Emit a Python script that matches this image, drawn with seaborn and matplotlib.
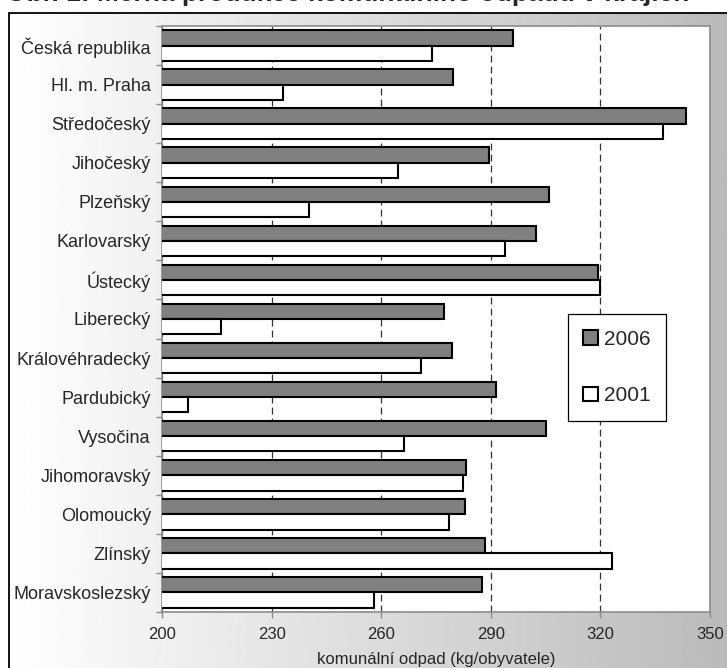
import numpy as np
import pandas as pd
import matplotlib
matplotlib.use("Agg")
import matplotlib.pyplot as plt
from matplotlib.patches import Patch, Rectangle
import seaborn as sns

# Municipal waste per inhabitant by region (kg/obyvatele)
kraje = ["Česká republika", "Hl. m. Praha", "Středočeský", "Jihočeský", "Plzeňský",
         "Karlovarský", "Ústecký", "Liberecký", "Královéhradecký", "Pardubický",
         "Vysočina", "Jihomoravský", "Olomoucký", "Zlínský", "Moravskoslezský"]
odpad_2006 = [296.1, 279.7, 343.4, 289.6, 305.9, 302.5, 319.3, 277.2, 279.4, 291.4,
              305.1, 283.3, 283.0, 288.3, 287.6]
odpad_2001 = [274.0, 233.1, 337.1, 264.5, 240.3, 293.9, 319.9, 216.1, 270.8, 207.1,
              266.3, 282.4, 278.6, 323.1, 257.9]
roky = ["2006", "2001"]
x_ticks = [200, 230, 260, 290, 320, 350]

df = pd.DataFrame({
    "kraj": kraje * 2,
    "odpad": odpad_2006 + odpad_2001,
    "rok": [roky[0]] * len(kraje) + [roky[1]] * len(kraje),
})

sns.set_style("white")
plt.rcParams["font.family"] = ["Liberation Sans", "DejaVu Sans"]

W, H = 727, 668
fig = plt.figure(figsize=(W / 100, H / 100), dpi=100)
fig.patch.set_facecolor("white")

# chart-area background: horizontal white-to-grey gradient inside a black frame
bx0, btop = 9 / W, 1 - 13 / H
bg = fig.add_axes([bx0, 0, 1 - bx0, btop], zorder=-10)
grad = np.linspace(1.0, 0.73, 256)[None, :]
bg.imshow(grad, cmap="gray", vmin=0, vmax=1, aspect="auto", extent=[0, 1, 0, 1])
bg.set_axis_off()
fig.patches.append(Rectangle((bx0, -0.05), 1.2, btop + 0.05, transform=fig.transFigure,
                             fill=False, edgecolor="black", linewidth=1.3, zorder=-5))

# heading sits at the very top edge, only its lower strokes remain visible
fig.text(6 / W, 1 - 1.5 / H, "Obr. 1: Měrná produkce komunálního odpadu v krajích",
         ha="left", va="baseline", fontsize=19, fontweight="bold")

ax = fig.add_axes([162 / W, 1 - 612 / H, (710 - 162) / W, (612 - 26) / H])
ax.set_facecolor("white")

sns.barplot(data=df, x="odpad", y="kraj", hue="rok", hue_order=roky,
            palette={"2006": "#808080", "2001": "#ffffff"}, order=kraje,
            edgecolor="black", linewidth=1.5, width=0.78, gap=0,
            legend=False, ax=ax, zorder=3)

ax.set_xlim(200, 350)
ax.set_xticks(x_ticks)
ax.set_xticklabels([str(t) for t in x_ticks], fontsize=12)
ax.set_xlabel("komunální odpad (kg/obyvatele)", fontsize=12, labelpad=7)
ax.set_ylabel("")

n = len(kraje)
ax.set_yticks(range(n))
ax.set_yticklabels(kraje, fontsize=13)
ax.set_yticks(np.arange(-0.5, n, 1.0), minor=True)
ax.tick_params(axis="y", which="major", length=0, pad=8)
ax.tick_params(axis="y", which="minor", length=4, width=1, color="#8c8c8c", left=True)
ax.tick_params(axis="x", which="major", length=4, width=1, color="#8c8c8c",
               bottom=True, pad=7)

ax.set_axisbelow(True)
ax.xaxis.grid(True, linestyle=(0, (5.5, 3.3)), color="#333333", linewidth=0.9)
ax.yaxis.grid(False)
for s in ax.spines.values():
    s.set_visible(True)
    s.set_color("#8c8c8c")
    s.set_linewidth(1.2)

handles = [Patch(facecolor="#808080", edgecolor="black", linewidth=1.5, label="2006"),
           Patch(facecolor="#ffffff", edgecolor="black", linewidth=1.5, label="2001")]
leg = ax.legend(handles=handles, loc="upper left",
                bbox_to_anchor=(567.7 / W, 1 - 314 / H), bbox_transform=fig.transFigure,
                borderaxespad=0, fontsize=15, handlelength=0.7, handleheight=0.7,
                handletextpad=0.3, labelspacing=1.8, borderpad=0.75,
                fancybox=False, framealpha=1, facecolor="white", edgecolor="black")
leg.get_frame().set_linewidth(0.9)

fig.savefig("out.png", dpi=100)
